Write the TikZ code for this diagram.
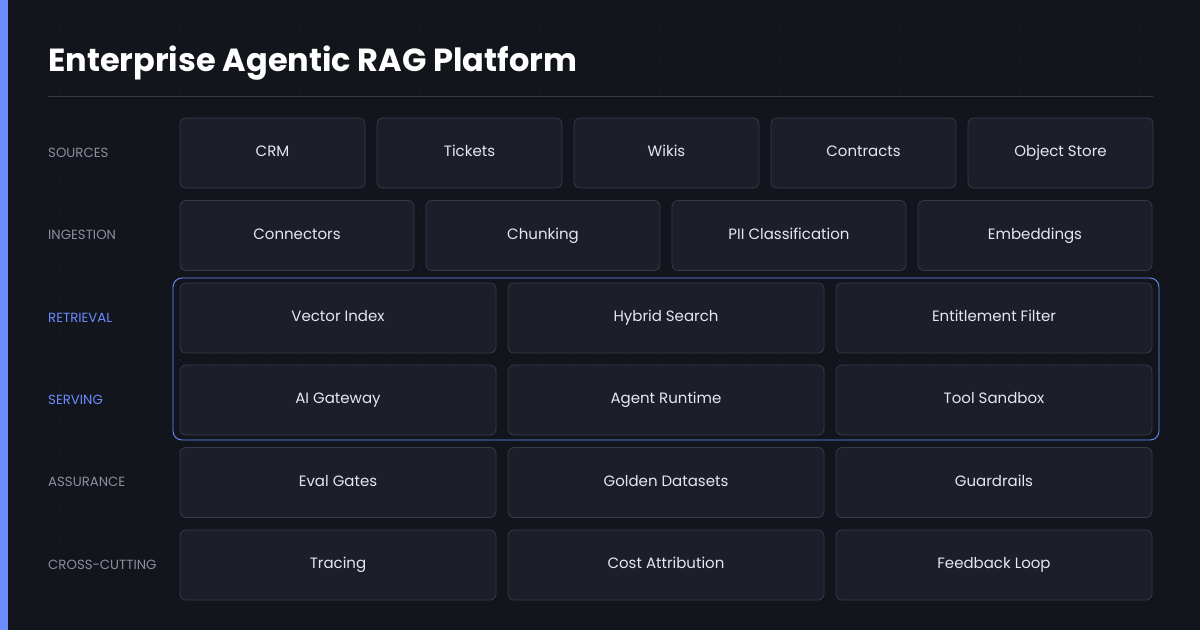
\documentclass[tikz,border=0pt]{standalone}
\usepackage{fontspec}
\setmainfont{Poppins}
\usepackage{tikz}
\usetikzlibrary{positioning}
\definecolor{bgdark}{HTML}{12151C}
\definecolor{cardfill}{HTML}{1C1F29}
\definecolor{cardline}{HTML}{363B4A}
\definecolor{accent}{HTML}{6B8CFF}
\definecolor{labelgray}{HTML}{8A8F9C}
\definecolor{cardtext}{HTML}{E6E8EE}

\begin{document}
\begin{tikzpicture}[
    x=1pt, y=-1pt,
    card/.style={rectangle, draw=cardline, fill=cardfill, rounded corners=6pt,
                 line width=0.8pt, minimum height=70pt, align=center,
                 text=cardtext, font=\fontsize{15}{18}\selectfont, inner sep=0pt,
                 text height=10.5pt, text depth=3pt},
    layer/.style={anchor=west, text=labelgray, font=\fontsize{13.3}{16}\selectfont, inner sep=0pt},
    hot/.style={layer, text=accent},
]
  \fill[bgdark] (0,0) rectangle (1200,630);
  \useasboundingbox (0,0) rectangle (1200,630);
  \foreach \i in {1,...,39}
    \foreach \j in {1,...,20}
      \fill[white, opacity=0.07] (30*\i,30*\j) circle (0.9pt);
  \fill[accent] (0,0) rectangle (8,630);

  \node[anchor=west, inner sep=0pt, text=white, font=\fontsize{32}{38}\selectfont\bfseries] (title) at (48,63) {Enterprise Agentic RAG Platform};
  \draw[cardline] (48,96) coordinate (rulel) -- (1153,96) coordinate (ruler);

  % layer labels
  \node[layer] (lsrc) at (48,153) {SOURCES};
  \node[layer] (ling) at (48,235) {INGESTION};
  \node[hot] (lret) at (48,318) {RETRIEVAL};
  \node[hot] (lsrv) at (48,400) {SERVING};
  \node[layer] (lasr) at (48,482) {ASSURANCE};
  \node[layer] (lcc) at (48,565) {CROSS-CUTTING};

  % sources
  \foreach \t [count=\k] in {CRM,Tickets,Wikis,Contracts,Object Store}
    \node[card, minimum width=185pt] (src\k) at (180+92.5+197*\k-197,153) {\t};
  % ingestion
  \foreach \t [count=\k] in {Connectors,Chunking,PII Classification,Embeddings}
    \node[card, minimum width=234pt] (ing\k) at (180+117+246*\k-246,235.5) {\t};
  % three-column layers
  \foreach \t [count=\k] in {Vector Index,Hybrid Search,Entitlement Filter}
    \node[card, minimum width=316pt] (ret\k) at (180+158+328*\k-328,318) {\t};
  \foreach \t [count=\k] in {AI Gateway,Agent Runtime,Tool Sandbox}
    \node[card, minimum width=316pt] (srv\k) at (180+158+328*\k-328,400) {\t};
  \foreach \t [count=\k] in {Eval Gates,Golden Datasets,Guardrails}
    \node[card, minimum width=316pt] (asr\k) at (180+158+328*\k-328,482.5) {\t};
  \foreach \t [count=\k] in {Tracing,Cost Attribution,Feedback Loop}
    \node[card, minimum width=316pt] (cc\k) at (180+158+328*\k-328,565) {\t};

  \draw[accent, line width=0.9pt, rounded corners=9pt] (173,278) rectangle (1159,440);
\end{tikzpicture}
\end{document}
